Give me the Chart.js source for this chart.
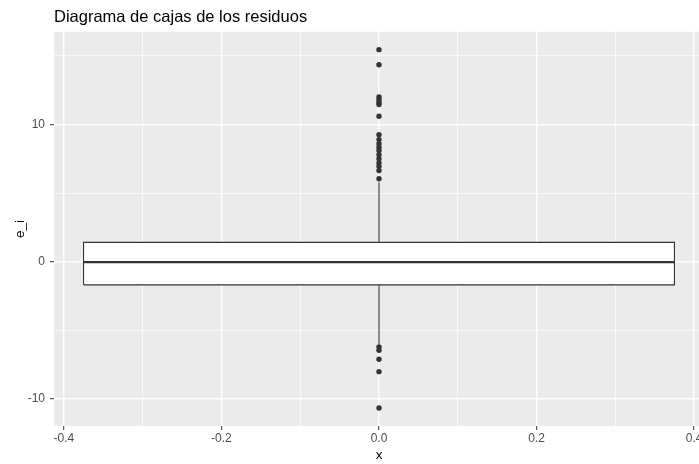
<!DOCTYPE html>
<html>
<head>
<meta charset="utf-8">
<script src="https://cdn.jsdelivr.net/npm/chart.js@4/dist/chart.umd.min.js"></script>
<style>
  html, body { margin: 0; padding: 0; background: #fff; overflow: hidden; }
  #wrap { width: 699px; height: 464px; overflow: hidden; }
</style>
</head>
<body>
<div id="wrap"><canvas id="myChart" width="708" height="464"></canvas></div>
<script>
// residual summary
const boxStats = { q1: -1.68, median: -0.02, q3: 1.41, lower: -6.0, upper: 5.8 };
const boxHalfWidth = 0.375;
const outliersHigh = [15.45, 14.35, 12.0, 11.8, 11.6, 11.45, 10.6, 9.25, 8.9, 8.6, 8.35, 8.1, 7.8, 7.5, 7.2, 6.95, 6.65, 6.05];
const outliersLow = [-6.2, -6.45, -7.1, -8.0, -10.65];
const xLabels = [-0.4, -0.2, 0, 0.2, 0.4];
const yLabels = [-10, 0, 10];

const ink = "#333333";
const tickText = "#4D4D4D";
const font = "'Liberation Sans', Arial, sans-serif";

// grey panel like ggplot
const panelBg = {
  id: "panelBg",
  beforeDraw(chart) {
    const { ctx, chartArea } = chart;
    ctx.save();
    ctx.fillStyle = "#EBEBEB";
    ctx.fillRect(chartArea.left, chartArea.top, chartArea.right - chartArea.left, chartArea.bottom - chartArea.top);
    ctx.restore();
  },
};

function isMajor(v, list) {
  return list.some((m) => Math.abs(m - v) < 1e-6);
}

const outlierPoints = outliersHigh.concat(outliersLow).map((v) => ({ x: 0, y: v }));

var ctx = document.getElementById("myChart").getContext("2d");
var myChart = new Chart(ctx, {
  type: "scatter",
  data: {
    datasets: [
      {
        label: "outliers",
        data: outlierPoints,
        pointRadius: 2.7,
        pointBackgroundColor: ink,
        pointBorderWidth: 0,
        showLine: false,
      },
      {
        label: "median",
        data: [
          { x: -boxHalfWidth, y: boxStats.median },
          { x: boxHalfWidth, y: boxStats.median },
        ],
        showLine: true,
        borderColor: ink,
        borderWidth: 2.2,
        pointRadius: 0,
      },
      {
        label: "box",
        data: [
          { x: -boxHalfWidth, y: boxStats.q1 },
          { x: boxHalfWidth, y: boxStats.q1 },
          { x: boxHalfWidth, y: boxStats.q3 },
          { x: -boxHalfWidth, y: boxStats.q3 },
          { x: -boxHalfWidth, y: boxStats.q1 },
        ],
        showLine: true,
        fill: "shape",
        backgroundColor: "#FFFFFF",
        borderColor: ink,
        borderWidth: 1.1,
        pointRadius: 0,
      },
      {
        label: "whisker up",
        data: [
          { x: 0, y: boxStats.q3 },
          { x: 0, y: boxStats.upper },
        ],
        showLine: true,
        borderColor: ink,
        borderWidth: 1.1,
        pointRadius: 0,
      },
      {
        label: "whisker down",
        data: [
          { x: 0, y: boxStats.q1 },
          { x: 0, y: boxStats.lower },
        ],
        showLine: true,
        borderColor: ink,
        borderWidth: 1.1,
        pointRadius: 0,
      },
    ],
  },
  options: {
    responsive: false,
    animation: false,
    layout: { padding: 0 },
    plugins: {
      legend: { display: false },
      tooltip: { enabled: false },
      title: {
        display: true,
        text: "Diagrama de cajas de los residuos",
        align: "start",
        fullSize: false,
        color: "#000000",
        font: { family: font, size: 16.5, weight: "normal" },
        padding: { top: 8, bottom: 4 },
      },
    },
    scales: {
      x: {
        type: "linear",
        min: -0.4125,
        max: 0.4125,
        afterFit: (s) => { s.height = 38; },
        ticks: {
          stepSize: 0.1,
          includeBounds: false,
          autoSkip: false,
          maxRotation: 0,
          padding: 1,
          color: tickText,
          font: { family: font, size: 12 },
          callback: (v) => (isMajor(v, xLabels) ? (Math.round(v * 10) / 10).toFixed(1) : ""),
        },
        grid: {
          color: "#FFFFFF",
          lineWidth: (c) => (isMajor(c.tick.value, xLabels) ? 1.4 : 0.7),
          tickColor: (c) => (isMajor(c.tick.value, xLabels) ? ink : "rgba(0,0,0,0)"),
          tickLength: 4,
          tickWidth: 1,
        },
        border: { display: false },
        title: {
          display: true,
          text: "x",
          color: "#000000",
          font: { family: font, size: 13.5 },
          padding: { top: 0, bottom: 1 },
        },
      },
      y: {
        type: "linear",
        min: -11.96,
        max: 16.75,
        afterFit: (s) => { s.width = 54; },
        ticks: {
          stepSize: 5,
          includeBounds: false,
          autoSkip: false,
          padding: 5,
          color: tickText,
          font: { family: font, size: 12 },
          callback: (v) => (isMajor(v, yLabels) ? String(v) : ""),
        },
        grid: {
          color: "#FFFFFF",
          lineWidth: (c) => (isMajor(c.tick.value, yLabels) ? 1.4 : 0.7),
          tickColor: (c) => (isMajor(c.tick.value, yLabels) ? ink : "rgba(0,0,0,0)"),
          tickLength: 4,
          tickWidth: 1,
        },
        border: { display: false },
        title: {
          display: true,
          text: "e_i",
          color: "#000000",
          font: { family: font, size: 13.5 },
          padding: { top: 12, bottom: 0 },
        },
      },
    },
  },
  plugins: [panelBg],
});
</script>
</body>
</html>
